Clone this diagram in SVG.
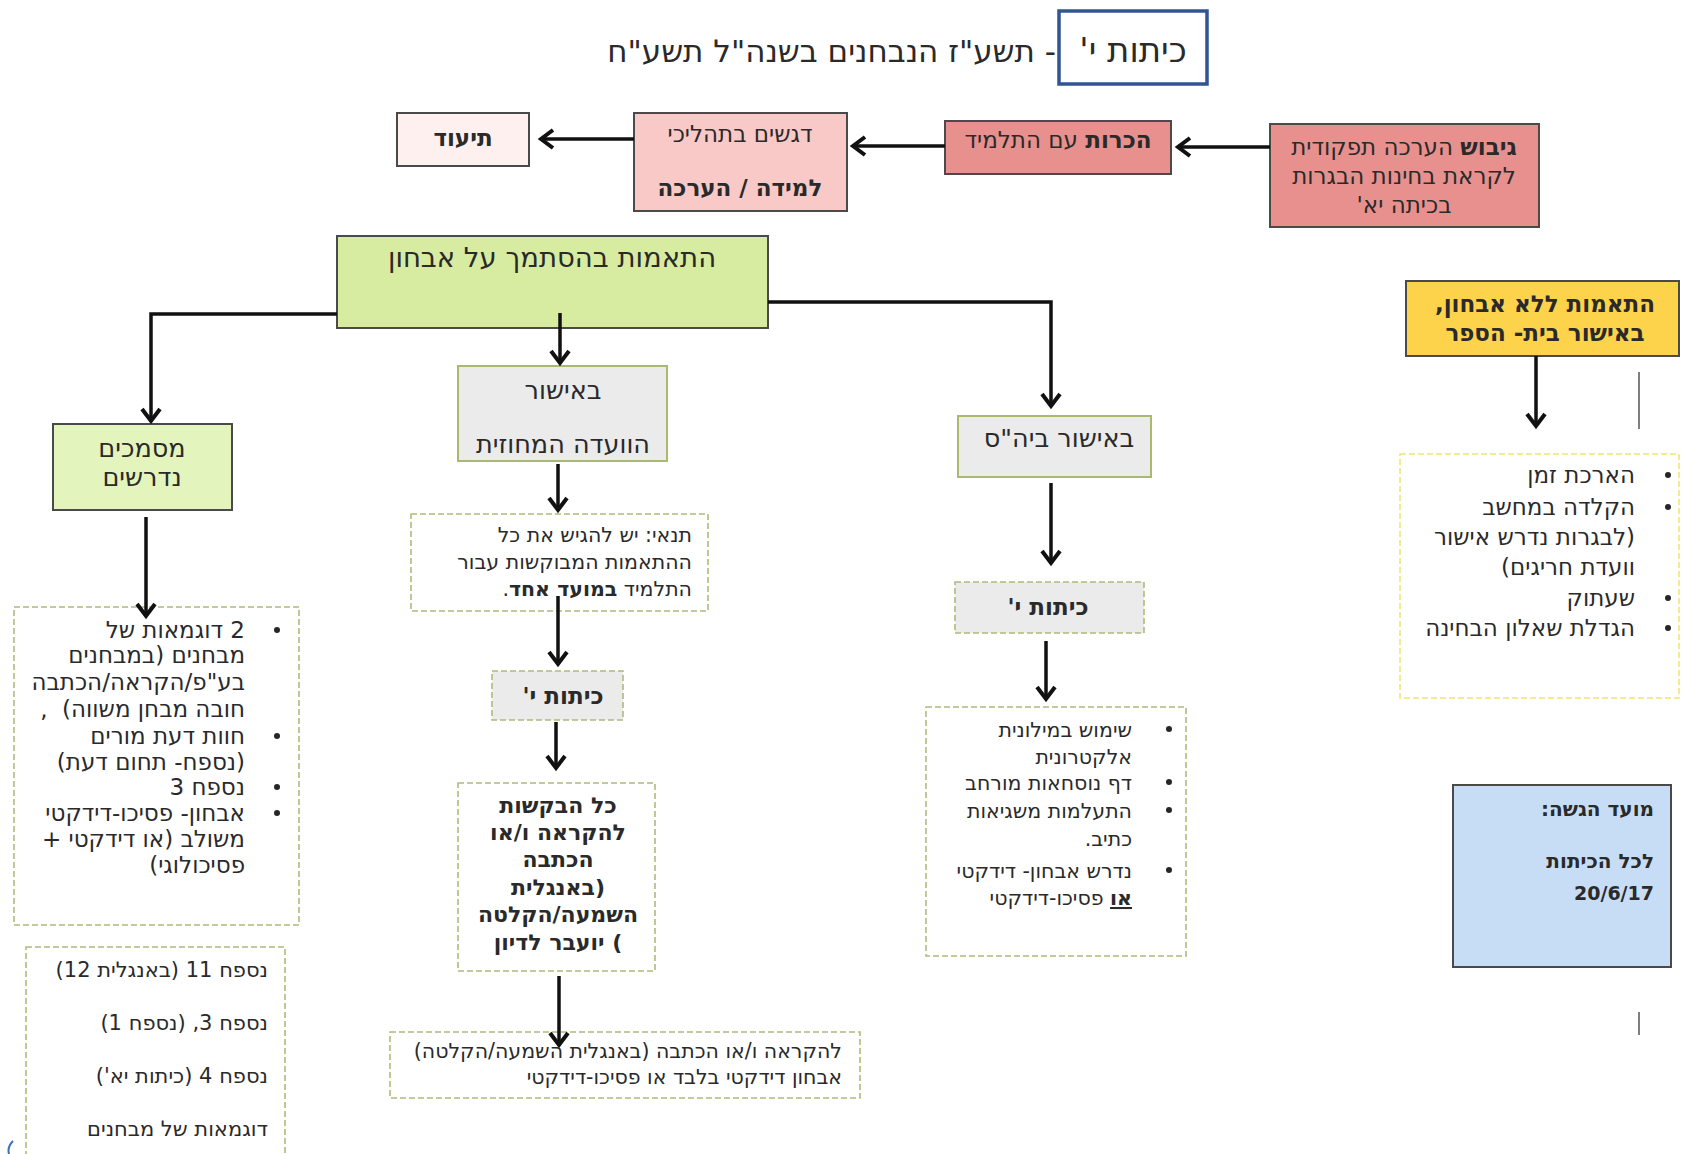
<svg xmlns="http://www.w3.org/2000/svg" width="1682" height="1154" viewBox="0 0 1682 1154">
<defs>
<style>
text{font-family:"DejaVu Sans","Liberation Sans",sans-serif;fill:#2a2a2a;direction:rtl;}
.c{text-anchor:middle;}
.r{text-anchor:start;}
.b{font-weight:bold;}
.row2{font-size:23px;}
.mid{font-size:25.5px;}
.lst{font-size:23px;}
.sm{font-size:20.5px;}
.box{stroke:#4a4a4a;stroke-width:2;}
.gray{fill:#ebebeb;stroke:#a9b96e;stroke-width:2;}
.dash{fill:#ffffff;stroke:#b3b97c;stroke-width:1.6;stroke-dasharray:6 3;}
.dashg{fill:#ebebeb;stroke:#b3b97c;stroke-width:1.6;stroke-dasharray:6 3;}
.conn{fill:none;stroke:#111;stroke-width:3.5;}
.bul{fill:#262626;}
</style>
<marker id="ah" viewBox="-16 -12 20 24" markerWidth="20" markerHeight="24" refX="0" refY="0" orient="auto" markerUnits="userSpaceOnUse">
<path d="M-12,-9 L0,0 L-12,9" fill="none" stroke="#111" stroke-width="4"/>
</marker>
</defs>
<rect width="1682" height="1154" fill="#ffffff"/>

<g id="title">
<rect x="1059" y="11" width="148" height="73" fill="#ffffff" stroke="#2f5597" stroke-width="3.5"/>
<text class="c" x="1133" y="62" font-size="34">כיתות י'</text>
<text class="r" x="1056" y="62" font-size="31">- תשע"ז הנבחנים בשנה"ל תשע"ח</text>
</g>

<g id="n-tiud">
<rect class="box" x="397" y="113" width="132" height="53" fill="#fdf0ef"/>
<text class="c b row2" x="463" y="146">תיעוד</text>
</g>
<g id="n-dgashim">
<rect class="box" x="634" y="113" width="213" height="98" fill="#f8c9c7"/>
<text class="c row2" x="740" y="142">דגשים בתהליכי</text>
<text class="c b row2" x="740" y="196">למידה / הערכה</text>
</g>
<g id="n-hekerut">
<rect class="box" x="945" y="121" width="226" height="53" fill="#e8908e"/>
<text class="c row2" x="1058" y="148"><tspan class="b">הכרות</tspan> עם התלמיד</text>
</g>
<g id="n-gibush">
<rect class="box" x="1270" y="124" width="269" height="103" fill="#e8908e"/>
<text class="c row2" x="1404" y="155"><tspan class="b">גיבוש</tspan> הערכה תפקודית</text>
<text class="c row2" x="1404" y="184">לקראת בחינות הבגרות</text>
<text class="c row2" x="1404" y="213">בכיתה יא'</text>
</g>

<g id="n-main">
<rect class="box" x="337" y="236" width="431" height="92" fill="#d7eca1"/>
<text class="c" x="552" y="267" font-size="27.5">התאמות בהסתמך על אבחון</text>
</g>

<g id="n-mismachim">
<rect class="box" x="53" y="424" width="179" height="86" fill="#e4f4bd"/>
<text class="c mid" x="142" y="457">מסמכים</text>
<text class="c mid" x="142" y="486">נדרשים</text>
</g>

<g id="n-vaada">
<rect class="gray" x="458" y="366" width="209" height="95"/>
<text class="c mid" x="563" y="399">באישור</text>
<text class="c mid" x="563" y="453">הוועדה המחוזית</text>
</g>

<g id="n-bihas">
<rect class="gray" x="958" y="416" width="193" height="61"/>
<text class="c mid" x="1059" y="447">באישור ביה"ס</text>
</g>

<g id="n-lelo">
<rect class="box" x="1406" y="281" width="273" height="75" fill="#fdd34b"/>
<text class="c b lst" x="1545" y="312">התאמות ללא אבחון,</text>
<text class="c b lst" x="1545" y="341">באישור בית- הספר</text>
</g>

<g id="n-lelo-list">
<rect x="1400" y="454" width="279" height="244" fill="#ffffff" stroke="#f1e57a" stroke-width="1.6" stroke-dasharray="6 3"/>
<circle class="bul" cx="1668" cy="475" r="3"/>
<circle class="bul" cx="1668" cy="507" r="3"/>
<circle class="bul" cx="1668" cy="598" r="3"/>
<circle class="bul" cx="1668" cy="628" r="3"/>
<text class="r lst" x="1635" y="483">הארכת זמן</text>
<text class="r lst" x="1635" y="515">הקלדה  במחשב</text>
<text class="r lst" x="1635" y="545">(לבגרות נדרש אישור</text>
<text class="r lst" x="1635" y="575">וועדת חריגים)</text>
<text class="r lst" x="1635" y="606">שעתוק</text>
<text class="r lst" x="1635" y="636">הגדלת שאלון הבחינה</text>
</g>

<g id="n-moed">
<rect class="box" x="1453" y="785" width="218" height="182" fill="#c7ddf6"/>
<text class="r b" x="1654" y="816" font-size="20">מועד הגשה:</text>
<text class="r b" x="1654" y="868" font-size="20">לכל הכיתות</text>
<text class="r b" x="1654" y="900" font-size="19">20/6/17</text>
</g>

<g id="n-docs-list">
<rect class="dash" x="14" y="607" width="285" height="318"/>
<circle class="bul" cx="277" cy="630" r="3"/>
<circle class="bul" cx="277" cy="736" r="3"/>
<circle class="bul" cx="277" cy="787" r="3"/>
<circle class="bul" cx="277" cy="813" r="3"/>
<text class="r lst" x="245" y="638">2 דוגמאות של</text>
<text class="r lst" x="245" y="663">מבחנים (במבחנים</text>
<text class="r lst" x="245" y="690">בע"פ/הקראה/הכתבה</text>
<text class="r lst" x="245" y="717">חובה מבחן משווה)&#160; ,</text>
<text class="r lst" x="245" y="744">חוות דעת מורים</text>
<text class="r lst" x="245" y="770">(נספח- תחום דעת)</text>
<text class="r lst" x="245" y="795">נספח 3</text>
<text class="r lst" x="245" y="821">אבחון- פסיכו-דידקטי</text>
<text class="r lst" x="245" y="847">משולב (או דידקטי +</text>
<text class="r lst" x="245" y="873">פסיכולוגי)</text>
</g>

<g id="n-nispach">
<rect class="dash" x="26" y="947" width="259" height="215"/>
<text class="r" x="268" y="977" font-size="21">נספח 11 (באנגלית 12)</text>
<text class="r" x="268" y="1030" font-size="21">נספח 3, (נספח 1)</text>
<text class="r" x="268" y="1083" font-size="21">נספח 4 (כיתות יא')</text>
<text class="r" x="268" y="1136" font-size="21">דוגמאות של מבחנים</text>
</g>

<g id="n-tnai">
<rect class="dash" x="411" y="514" width="297" height="97"/>
<text class="r sm" x="692" y="542">תנאי: יש להגיש את כל</text>
<text class="r sm" x="692" y="569">ההתאמות המבוקשות עבור</text>
<text class="r sm" x="692" y="596">התלמיד <tspan class="b">במועד אחד</tspan>.</text>
</g>

<g id="n-kitot-mid">
<rect class="dashg" x="492" y="671" width="131" height="49"/>
<text class="c b" x="563" y="704" font-size="23">כיתות י'</text>
</g>

<g id="n-bakashot">
<rect class="dash" x="458" y="783" width="197" height="188"/>
<text class="c b" x="558" y="813" font-size="22">כל הבקשות</text>
<text class="c b" x="558" y="840" font-size="22">להקראה ו/או</text>
<text class="c b" x="558" y="867" font-size="22">הכתבה</text>
<text class="c b" x="558" y="895" font-size="22">(באנגלית</text>
<text class="c b" x="558" y="922" font-size="22">השמעה/הקלטה</text>
<text class="c b" x="558" y="950" font-size="22">) יועבר לדיון</text>
</g>

<g id="n-bottom-mid">
<rect class="dash" x="390" y="1032" width="470" height="66"/>
<text class="r sm" x="842" y="1058">להקראה ו/או הכתבה (באנגלית השמעה/הקלטה)</text>
<text class="r sm" x="842" y="1084">אבחון דידקטי בלבד או פסיכו-דידקטי</text>
</g>

<g id="n-kitot-right">
<rect class="dashg" x="955" y="582" width="189" height="51"/>
<text class="c b" x="1048" y="615" font-size="23">כיתות י'</text>
</g>

<g id="n-right-list">
<rect class="dash" x="926" y="707" width="260" height="249"/>
<circle class="bul" cx="1169" cy="729" r="3"/>
<circle class="bul" cx="1169" cy="782" r="3"/>
<circle class="bul" cx="1169" cy="810" r="3"/>
<circle class="bul" cx="1169" cy="870" r="3"/>
<text class="r sm" x="1132" y="737">שימוש במילונית</text>
<text class="r sm" x="1132" y="764">אלקטרונית</text>
<text class="r sm" x="1132" y="790">דף נוסחאות מורחב</text>
<text class="r sm" x="1132" y="818">התעלמות משגיאות</text>
<text class="r sm" x="1132" y="846">כתיב.</text>
<text class="r sm" x="1132" y="878">נדרש אבחון- דידקטי</text>
<text class="r sm" x="1132" y="905"><tspan class="b" text-decoration="underline">או</tspan> פסיכו-דידקטי</text>
</g>

<g id="connectors">
<path class="conn" d="M1270,147 H1178" marker-end="url(#ah)"/>
<path class="conn" d="M945,146 H853" marker-end="url(#ah)"/>
<path class="conn" d="M634,139 H541" marker-end="url(#ah)"/>
<path class="conn" d="M337,314 H151 V421" marker-end="url(#ah)"/>
<path class="conn" d="M560,313 V363" marker-end="url(#ah)"/>
<path class="conn" d="M768,302 H1051 V406" marker-end="url(#ah)"/>
<path class="conn" d="M1536,356 V426" marker-end="url(#ah)"/>
<path class="conn" d="M146,517 V616" marker-end="url(#ah)"/>
<path class="conn" d="M558,464 V510" marker-end="url(#ah)"/>
<path class="conn" d="M558,596 V664" marker-end="url(#ah)"/>
<path class="conn" d="M556,722 V768" marker-end="url(#ah)"/>
<path class="conn" d="M559,976 V1045" marker-end="url(#ah)"/>
<path class="conn" d="M1051,483 V563" marker-end="url(#ah)"/>
<path class="conn" d="M1046,641 V699" marker-end="url(#ah)"/>
</g>

<g id="marks">
<line x1="1639" y1="372" x2="1639" y2="429" stroke="#555" stroke-width="1.5"/>
<line x1="1639" y1="1012" x2="1639" y2="1035" stroke="#555" stroke-width="1.5"/>
<path d="M13,1141 Q7,1147 9,1154" fill="none" stroke="#3b6fc3" stroke-width="2"/>
</g>
</svg>
